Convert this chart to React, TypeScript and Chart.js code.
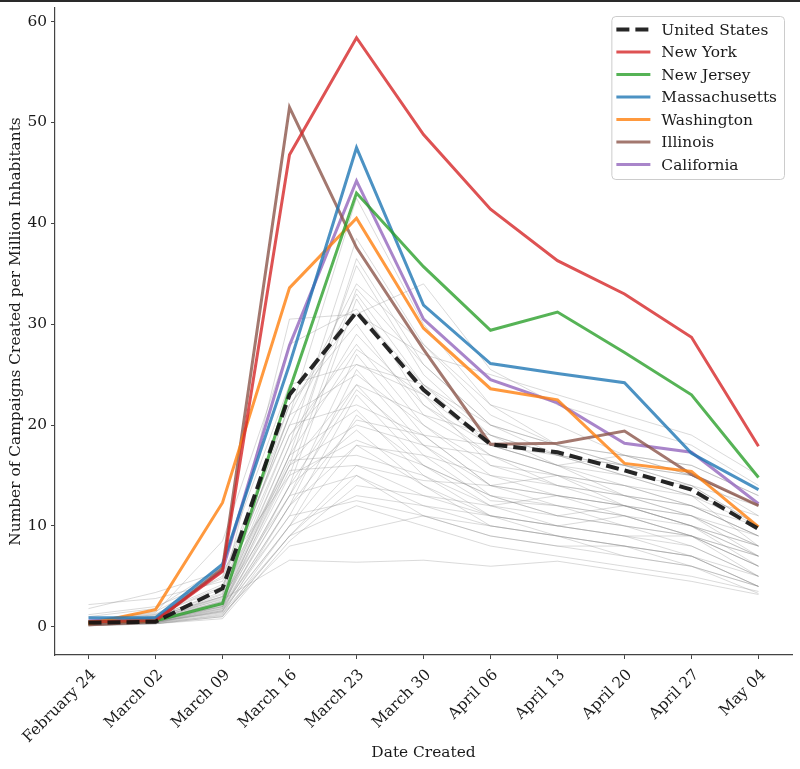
import React, { useEffect, useRef } from 'react';
import { Chart, registerables } from 'chart.js';

Chart.register(...registerables);

const categories = [
  'February 24', 'March 02', 'March 09', 'March 16', 'March 23', 'March 30',
  'April 06', 'April 13', 'April 20', 'April 27', 'May 04',
];

const yTicks = [0, 10, 20, 30, 40, 50, 60];

const unitedStates = [0.4, 0.5, 3.8, 23.0, 31.2, 23.5, 18.1, 17.3, 15.5, 13.6, 9.7];
const newYork = [0.5, 0.6, 5.5, 46.8, 58.4, 48.8, 41.4, 36.3, 33.0, 28.7, 17.9];
const newJersey = [0.5, 0.6, 2.3, 23.5, 43.0, 35.7, 29.4, 31.2, 27.2, 23.0, 14.8];
const massachusetts = [0.9, 0.9, 6.2, 26.0, 47.5, 31.9, 26.1, 25.1, 24.2, 17.2, 13.6];
const washington = [0.3, 1.7, 12.3, 33.6, 40.5, 29.6, 23.6, 22.5, 16.2, 15.4, 9.9];
const illinois = [0.2, 0.5, 5.8, 51.5, 37.6, 27.5, 18.1, 18.2, 19.4, 15.1, 12.0];
const california = [0.6, 0.7, 5.6, 27.9, 44.2, 30.5, 24.5, 22.2, 18.2, 17.3, 12.2];

const otherStates: number[][] = [
  [0.5, 0.8, 3.0, 21, 42.5, 30, 22, 20, 17, 15, 12],
  [0.3, 0.6, 2.5, 18, 38.5, 28, 21, 18, 16, 14, 10],
  [0.2, 0.5, 2.0, 17, 35.8, 25, 19, 16, 14, 12, 9],
  [0.4, 1.0, 3.5, 30.5, 31, 34, 25.5, 22, 20, 18, 14],
  [0.3, 0.5, 2.2, 15, 33.5, 26, 20, 17, 15, 13, 8],
  [0.5, 1.2, 4.0, 20, 33, 24, 18, 16, 13, 11, 7],
  [0.2, 0.4, 1.5, 14, 32.5, 22, 17, 15, 13, 12, 9],
  [0.6, 1.5, 5.0, 22, 30, 21, 17, 14, 12, 10, 7],
  [0.3, 0.7, 2.8, 19, 28, 20, 16, 15, 14, 13, 11],
  [0.2, 0.4, 1.8, 13, 27, 19, 14, 13, 12, 11, 8],
  [1.0, 1.8, 6.0, 24, 26, 23, 18, 16, 15, 13, 10],
  [0.1, 0.3, 1.2, 12, 25.5, 18, 13, 11, 10, 9, 6],
  [0.4, 0.9, 3.2, 21, 25, 20, 15, 13, 11, 9, 6],
  [0.2, 0.6, 2.6, 16, 24, 17, 12.5, 12, 11, 10, 7],
  [0.3, 0.5, 1.6, 11, 23, 16, 12, 10, 9, 8, 5],
  [2.2, 2.8, 4.5, 20, 22, 19, 14, 12, 10, 9, 5],
  [0.5, 1.0, 3.0, 17, 21.5, 15, 11, 10, 9, 7, 4],
  [0.1, 0.3, 1.0, 10, 21, 16, 13, 11, 12, 10, 8],
  [0.6, 1.3, 4.2, 16, 20, 18, 17, 15, 14, 12, 9],
  [0.2, 0.5, 2.1, 14, 19.5, 14, 10, 9, 8, 7, 4],
  [1.8, 3.4, 5.5, 15, 18.5, 16, 13, 12, 11, 9, 6],
  [0.3, 0.6, 1.8, 12, 18, 14, 11, 10, 11, 9, 7],
  [0.4, 0.8, 2.4, 16.5, 17, 15, 12, 11, 10, 8, 5],
  [0.2, 0.5, 1.4, 9, 16, 13, 12, 13, 12, 11, 9],
  [0.3, 0.7, 2.3, 15.5, 16, 14.5, 14, 13, 12, 10, 8],
  [0.5, 1.0, 3.0, 13, 15, 12, 10, 9, 8, 7, 4],
  [0.1, 0.3, 0.8, 8.5, 14, 13, 11, 10, 9, 9, 7],
  [0.2, 0.5, 1.5, 10, 13, 12, 11, 9, 7, 6, 4],
  [0.3, 0.6, 2.0, 11, 12.5, 11, 9, 8, 7, 6, 3.3],
  [0.1, 0.4, 1.1, 9, 12, 10, 8, 7, 6, 5, 3.5],
  [0.4, 0.9, 2.7, 6.6, 6.4, 6.6, 6.0, 6.5, 5.5, 4.5, 3.2],
  [0.2, 0.4, 1.3, 8, 9.5, 11, 10, 9, 8, 7, 5],
  [0.6, 1.2, 3.8, 19, 26, 24, 20, 18, 16, 14, 12],
  [0.3, 0.8, 2.9, 18, 29, 22, 18, 17, 16, 15, 11],
  [0.4, 1.1, 3.3, 22, 31, 27, 25, 23, 21, 19, 15],
  [0.2, 0.5, 1.7, 12, 20.5, 19, 18, 16, 17, 15, 12],
  [1.2, 2.0, 4.8, 21, 34, 28, 22, 18, 17, 16, 13],
  [0.3, 0.6, 2.2, 14, 24, 21, 19, 17, 15, 14, 10],
  [0.5, 0.9, 2.5, 17, 27.5, 23, 16, 14, 13, 11, 8],
  [0.2, 0.4, 1.6, 10, 18, 17, 15, 14, 13, 12, 10],
  [0.4, 0.7, 2.0, 13, 23.5, 18, 14, 15, 12, 10, 6],
  [0.3, 0.5, 1.9, 16, 36.5, 26, 20, 18, 17, 16, 13],
  [0.6, 1.4, 8.5, 28, 31.5, 24, 19, 17, 16, 15, 12],
  [0.2, 0.3, 1.0, 9, 15, 11, 9, 8, 8, 6, 4],
];

const FONT = '"DejaVu Serif", serif';
const FONT_SIZE = 15.4;

const insideLegend = {
  id: 'insideLegend',
  afterDraw(chart: any) {
    const ctx = chart.ctx as CanvasRenderingContext2D;
    const items = chart.data.datasets.filter((d: any) => d.label);
    ctx.save();
    ctx.font = `${FONT_SIZE}px ${FONT}`;
    const maxW = Math.max(...items.map((d: any) => ctx.measureText(d.label).width));
    const rowH = 22.5;
    const w = 50 + maxW + 7;
    const h = 28 + (items.length - 1) * rowH;
    const x = chart.chartArea.right - 8 - w;
    const y = chart.chartArea.top + 8;
    ctx.beginPath();
    (ctx as any).roundRect(x + 0.5, y + 0.5, w, h, 4);
    ctx.fillStyle = 'rgba(255,255,255,0.8)';
    ctx.fill();
    ctx.strokeStyle = '#cccccc';
    ctx.lineWidth = 1;
    ctx.stroke();
    items.forEach((d: any, i: number) => {
      const cy = y + 13.5 + i * rowH;
      ctx.beginPath();
      ctx.setLineDash(d.borderDash || []);
      ctx.strokeStyle = d.borderColor;
      ctx.lineWidth = d.borderWidth;
      ctx.moveTo(x + 5, cy);
      ctx.lineTo(x + 39, cy);
      ctx.stroke();
      ctx.setLineDash([]);
      ctx.fillStyle = '#1a1a1a';
      ctx.textBaseline = 'middle';
      ctx.textAlign = 'left';
      ctx.fillText(d.label, x + 50, cy + 1);
    });
    ctx.restore();
  },
};

export default function App() {
  const canvasRef = useRef<HTMLCanvasElement>(null);

  useEffect(() => {
    document.body.style.margin = '0';
    const canvas = canvasRef.current;
    if (!canvas) return;

    const colored = (label: string, data: number[], rgb: string, order: number) => ({
      label,
      data,
      borderColor: `rgba(${rgb},0.8)`,
      backgroundColor: `rgba(${rgb},0.8)`,
      borderWidth: 3,
      pointRadius: 0,
      tension: 0,
      fill: false,
      order,
    });

    const datasets: any[] = [
      {
        label: 'United States',
        data: unitedStates,
        borderColor: 'rgba(20,20,20,0.92)',
        backgroundColor: 'rgba(20,20,20,0.92)',
        borderWidth: 4,
        borderDash: [13, 6],
        pointRadius: 0,
        tension: 0,
        fill: false,
        order: 0,
      },
      colored('New York', newYork, '214,39,40', 1),
      colored('New Jersey', newJersey, '44,160,44', 2),
      colored('Massachusetts', massachusetts, '31,119,180', 3),
      colored('Washington', washington, '255,127,14', 4),
      colored('Illinois', illinois, '140,86,75', 5),
      colored('California', california, '148,103,189', 6),
      ...otherStates.map((s) => ({
        data: s,
        borderColor: 'rgba(140,140,140,0.4)',
        borderWidth: 0.8,
        pointRadius: 0,
        tension: 0,
        fill: false,
        order: 10,
      })),
    ];

    const chart = new Chart(canvas, {
      type: 'line',
      data: { labels: categories, datasets },
      options: {
        animation: false,
        responsive: false,
        devicePixelRatio: 1,
        layout: { padding: { top: 8, right: 8, left: 0, bottom: 0 } },
        plugins: {
          legend: { display: false },
          tooltip: { enabled: false },
        },
        scales: {
          x: {
            type: 'category',
            offset: true,
            grid: {
              display: true,
              drawOnChartArea: false,
              drawTicks: true,
              tickLength: 4,
              color: '#444',
              offset: false,
            },
            border: { display: true, color: '#444', width: 1.2 },
            ticks: {
              minRotation: 45,
              maxRotation: 45,
              autoSkip: false,
              padding: 7,
              labelOffset: 5,
              color: '#1a1a1a',
              font: { family: FONT, size: FONT_SIZE },
            },
            title: {
              display: true,
              text: 'Date Created',
              color: '#1a1a1a',
              font: { family: FONT, size: FONT_SIZE },
              padding: { top: 4, bottom: 7 },
            },
            afterFit: (scale: any) => {
              scale.height = 114;
              scale.paddingLeft = 0;
              scale.paddingRight = 0;
            },
          },
          y: {
            type: 'linear',
            min: -2.8,
            max: 61.35,
            afterBuildTicks: (scale: any) => {
              scale.ticks = yTicks.map((v) => ({ value: v }));
            },
            grid: {
              display: true,
              drawOnChartArea: false,
              drawTicks: true,
              tickLength: 4,
              color: '#444',
            },
            border: { display: true, color: '#444', width: 1.2 },
            ticks: {
              padding: 4,
              color: '#1a1a1a',
              font: { family: FONT, size: FONT_SIZE },
            },
            title: {
              display: true,
              text: 'Number of Campaigns Created per Million Inhabitants',
              color: '#1a1a1a',
              font: { family: FONT, size: FONT_SIZE },
              padding: { top: 7, bottom: 4 },
            },
            afterFit: (scale: any) => {
              scale.width = 55;
              scale.paddingTop = 0;
              scale.paddingBottom = 0;
            },
          },
        },
      },
      plugins: [insideLegend],
    });

    return () => chart.destroy();
  }, []);

  return (
    <div style={{ position: 'relative', width: 800, height: 769, background: '#fff' }}>
      <div style={{ position: 'absolute', top: 0, left: 0, width: 800, height: 2, background: '#2a2a2a' }} />
      <canvas ref={canvasRef} width={800} height={769} style={{ display: 'block' }} />
    </div>
  );
}
